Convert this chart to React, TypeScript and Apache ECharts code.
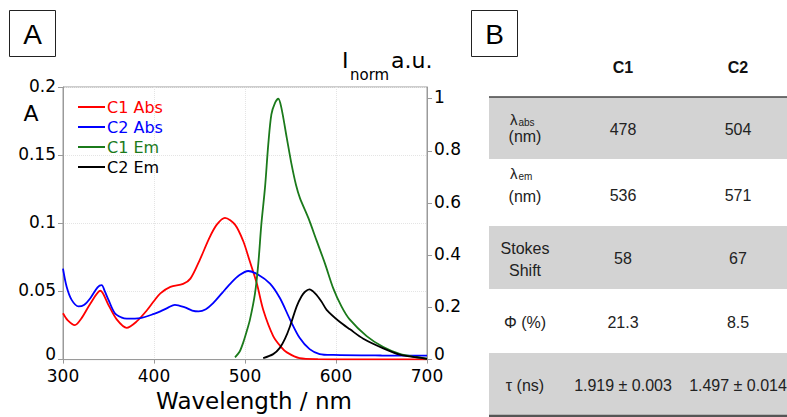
import React, { useEffect, useRef } from 'react';
import * as echarts from 'echarts';

// ---------- Panel A data ----------
const seriesNames = ['C1 Abs', 'C2 Abs', 'C1 Em', 'C2 Em'];
const seriesColors = ['#ff0000', '#0000ff', '#1b7a1b', '#000000'];

const c1Abs: [number, number][] = [
  [300, 0.034], [305, 0.029], [313, 0.0253], [320, 0.03], [330, 0.041], [341, 0.0505],
  [350, 0.04], [359, 0.0295], [370, 0.0233], [381, 0.028], [392, 0.036], [400, 0.043],
  [407, 0.0486], [418, 0.0534], [432, 0.0555], [440, 0.0594], [450, 0.0727], [461, 0.0895],
  [469, 0.099], [478, 0.104], [489, 0.099], [498, 0.087], [505, 0.0727], [513, 0.0558],
  [520, 0.0366], [531, 0.0173], [540, 0.009], [546, 0.0053], [560, 0.001], [580, 0.0003],
  [620, 0.0002], [700, 0.0001],
];

const c2Abs: [number, number][] = [
  [300, 0.0667], [304, 0.0534], [309.5, 0.0438], [317, 0.039], [323, 0.04], [330, 0.045],
  [338, 0.053], [342.5, 0.0546], [346, 0.05], [350, 0.0438], [357, 0.034], [364, 0.031],
  [370, 0.03], [385, 0.0305], [400, 0.0335], [407, 0.0354], [415, 0.038], [423, 0.0402],
  [434, 0.0383], [442, 0.036], [449, 0.0354], [457, 0.037], [465, 0.0414], [475, 0.049],
  [484, 0.0558], [494, 0.062], [503.6, 0.065], [514.6, 0.0623], [527.5, 0.0558],
  [538.5, 0.045], [549.5, 0.0294], [560, 0.016], [571, 0.0077], [582, 0.0041],
  [597, 0.0034], [650, 0.003], [700, 0.0029],
];

const c1Em: [number, number][] = [
  [489, 0.009], [494, 0.03], [498, 0.065], [502, 0.11], [505.5, 0.154], [511, 0.254],
  [514.6, 0.367], [518, 0.52], [522, 0.66], [525.6, 0.826], [529, 0.94], [533, 0.984],
  [536.6, 1.0], [540, 0.965], [545.8, 0.852], [551, 0.751], [556, 0.67], [560.4, 0.619],
  [569.6, 0.543], [578.8, 0.455], [588, 0.367], [597, 0.273], [606, 0.204], [615, 0.154],
  [633.7, 0.09], [652, 0.048], [670, 0.022], [688.7, 0.009], [700, 0.004],
];

const c2Em: [number, number][] = [
  [520, 0.006], [531, 0.021], [538.5, 0.046], [544, 0.08], [549.5, 0.128], [556.8, 0.204],
  [562, 0.242], [566, 0.26], [570.7, 0.269], [577, 0.254], [584, 0.223], [589.7, 0.191],
  [604, 0.145], [615.4, 0.116], [630, 0.08], [652, 0.043], [670, 0.019], [688.7, 0.009],
  [700, 0.003],
];

// ---------- Panel B data ----------
const tableColumns = ['C1', 'C2'];
const rowLabelMain = ['λ', 'λ', 'Stokes', 'Φ (%)', 'τ (ns)'];
const rowLabelSub = ['abs', 'em', '', '', ''];
const rowLabelSecond = ['(nm)', '(nm)', 'Shift', '', ''];
const c1Values = ['478', '536', '58', '21.3', '1.919 ± 0.003'];
const c2Values = ['504', '571', '67', '8.5', '1.497 ± 0.014'];

const CHART_FONT = 'DejaVu Sans, Verdana, sans-serif';
const TABLE_FONT = 'Liberation Sans, Arial, sans-serif';

function buildTable(): any[] {
  const els: any[] = [];
  const bands: [number, number][] = [[97, 159], [159, 226], [226, 289], [289, 353], [353, 415]];
  const rowY: [number, number, number][] = [
    [119, 136, 129], [173, 196, 195], [248, 270, 258], [322, 322, 322], [385, 385, 385],
  ];
  const labelX = 525;
  const colX = [623, 738];
  bands.forEach((b, i) => {
    if (i % 2 === 0) {
      els.push({ type: 'rect', shape: { x: 489, y: b[0], width: 300, height: b[1] - b[0] }, style: { fill: '#d3d3d3' }, z: 1 });
    }
  });
  els.push({ type: 'line', shape: { x1: 489, y1: 97, x2: 787, y2: 97 }, style: { stroke: '#444', lineWidth: 1.5 }, z: 3 });
  els.push({ type: 'line', shape: { x1: 489, y1: 416, x2: 787, y2: 416 }, style: { stroke: '#555', lineWidth: 2.5 }, z: 3 });
  tableColumns.forEach((c, j) => {
    els.push({ type: 'text', x: colX[j], y: 67, z: 4, style: { text: c, font: `bold 16px ${TABLE_FONT}`, fill: '#111', align: 'center', verticalAlign: 'middle' } });
  });
  rowLabelMain.forEach((lab, i) => {
    const [y1, y2, yv] = rowY[i];
    const sub = rowLabelSub[i];
    const second = rowLabelSecond[i];
    if (sub) {
      els.push({ type: 'text', x: 510, y: y1, z: 4, style: { text: lab, font: `15px ${TABLE_FONT}`, fill: '#222', align: 'left', verticalAlign: 'middle', lineHeight: 13 } });
      els.push({ type: 'text', x: 518.5, y: y1 + 3.5, z: 4, style: { text: sub, font: `10px ${TABLE_FONT}`, fill: '#222', align: 'left', verticalAlign: 'middle', lineHeight: 9 } });
    } else {
      els.push({ type: 'text', x: labelX, y: y1, z: 4, style: { text: lab, font: `16px ${TABLE_FONT}`, fill: '#222', align: 'center', verticalAlign: 'middle' } });
    }
    if (second) {
      els.push({ type: 'text', x: labelX, y: y2, z: 4, style: { text: second, font: `16px ${TABLE_FONT}`, fill: '#222', align: 'center', verticalAlign: 'middle', lineHeight: 15 } });
    }
    els.push({ type: 'text', x: colX[0], y: yv, z: 4, style: { text: c1Values[i], font: `16px ${TABLE_FONT}`, fill: '#222', align: 'center', verticalAlign: 'middle' } });
    els.push({ type: 'text', x: colX[1], y: yv, z: 4, style: { text: c2Values[i], font: `16px ${TABLE_FONT}`, fill: '#222', align: 'center', verticalAlign: 'middle' } });
  });
  return els;
}

const zeroRich = { z: { fontSize: 17, fontFamily: CHART_FONT, color: '#000', padding: [0, 0, 8, 0], lineHeight: 13 } };

export default function App() {
  const ref = useRef<HTMLDivElement>(null);
  useEffect(() => {
    if (!ref.current) return;
    const chart = echarts.init(ref.current, null, { renderer: 'svg' });
    const seriesData = [c1Abs, c2Abs, c1Em, c2Em];
    const option: any = {
      animation: false,
      backgroundColor: '#ffffff',
      grid: { left: 63, top: 87, width: 364, height: 277, show: true, borderColor: '#9a9a9a', borderWidth: 1, backgroundColor: 'transparent' },
      legend: {
        orient: 'vertical', left: 78, top: 97, padding: 0, itemGap: 0, itemWidth: 27, itemHeight: 2,
        icon: 'rect',
        textStyle: { fontSize: 16, fontFamily: CHART_FONT, lineHeight: 20, padding: [0, 0, 0, -3] },
        data: seriesNames.map((n, i) => ({ name: n, textStyle: { color: seriesColors[i] } })),
      },
      xAxis: {
        type: 'value', min: 300, max: 700, interval: 100,
        axisLine: { show: true, lineStyle: { color: '#9a9a9a' } },
        axisTick: { show: true, length: 4, lineStyle: { color: '#9a9a9a' } },
        axisLabel: { fontSize: 17, color: '#000', fontFamily: CHART_FONT, margin: 9, lineHeight: 14 },
        splitLine: { show: true, lineStyle: { type: 'dotted', color: '#e4e4e4' } },
        name: 'Wavelength / nm', nameLocation: 'middle', nameGap: 29,
        nameTextStyle: { fontSize: 23, color: '#000', fontFamily: CHART_FONT, padding: [0, 0, 0, 18] },
      },
      yAxis: [
        {
          type: 'value', min: 0, max: 0.2, interval: 0.05, position: 'left',
          axisLine: { show: true, lineStyle: { color: '#9a9a9a' } },
          axisTick: { show: true, length: 5, lineStyle: { color: '#9a9a9a' } },
          axisLabel: {
            fontSize: 17, color: '#000', fontFamily: CHART_FONT, margin: 7, lineHeight: 13, padding: [0, 0, 3, 0],
            rich: zeroRich,
            formatter: (v: number) => (v === 0 ? '{z|0}' : String(v)),
          },
          splitLine: { show: true, lineStyle: { type: 'dotted', color: '#e4e4e4' } },
        },
        {
          type: 'value', min: 0, max: 1.045, interval: 0.2, position: 'right',
          axisLine: { show: true, lineStyle: { color: '#9a9a9a' } },
          axisTick: { show: true, length: 5, lineStyle: { color: '#9a9a9a' } },
          axisLabel: {
            fontSize: 17, color: '#000', fontFamily: CHART_FONT, margin: 7, showMaxLabel: false,
            lineHeight: 13, padding: [0, 0, 3, 0], rich: zeroRich,
            formatter: (v: number) => {
              const k = v / 0.2;
              if (Math.abs(k - Math.round(k)) >= 1e-6) return '';
              return v === 0 ? '{z|0}' : String(+v.toFixed(1));
            },
          },
          splitLine: { show: false },
        },
      ],
      series: seriesNames.map((n, i) => ({
        type: 'line', name: n, data: seriesData[i], yAxisIndex: i < 2 ? 0 : 1,
        showSymbol: false, smooth: 0.3,
        lineStyle: { color: seriesColors[i], width: 1.8 },
        itemStyle: { color: seriesColors[i] },
        z: 5,
      })),
      graphic: [
        { type: 'rect', shape: { x: 9.5, y: 10.5, width: 46, height: 46 }, style: { fill: '#fff', stroke: '#222', lineWidth: 1 } },
        { type: 'text', x: 32.5, y: 34, style: { text: 'A', font: `28px ${TABLE_FONT}`, fill: '#000', align: 'center', verticalAlign: 'middle' } },
        { type: 'rect', shape: { x: 471.5, y: 10.5, width: 46, height: 46 }, style: { fill: '#fff', stroke: '#222', lineWidth: 1 } },
        { type: 'text', x: 494.5, y: 34, style: { text: 'B', font: `28px ${TABLE_FONT}`, fill: '#000', align: 'center', verticalAlign: 'middle' } },
        { type: 'text', x: 31, y: 113, style: { text: 'A', font: `22px ${CHART_FONT}`, fill: '#000', align: 'center', verticalAlign: 'middle' } },
        { type: 'text', x: 342, y: 60, style: { text: 'I', font: `22px ${CHART_FONT}`, fill: '#000', align: 'left', verticalAlign: 'middle' } },
        { type: 'text', x: 350, y: 75, style: { text: 'norm', font: `15px ${CHART_FONT}`, fill: '#000', align: 'left', verticalAlign: 'middle' } },
        { type: 'text', x: 391, y: 60, style: { text: 'a.u.', font: `22px ${CHART_FONT}`, fill: '#000', align: 'left', verticalAlign: 'middle' } },
        ...buildTable(),
      ],
    };
    chart.setOption(option);
    return () => chart.dispose();
  }, []);
  return <div ref={ref} style={{ position: 'fixed', left: 0, top: 0, width: 787, height: 417, background: '#fff' }} />;
}
